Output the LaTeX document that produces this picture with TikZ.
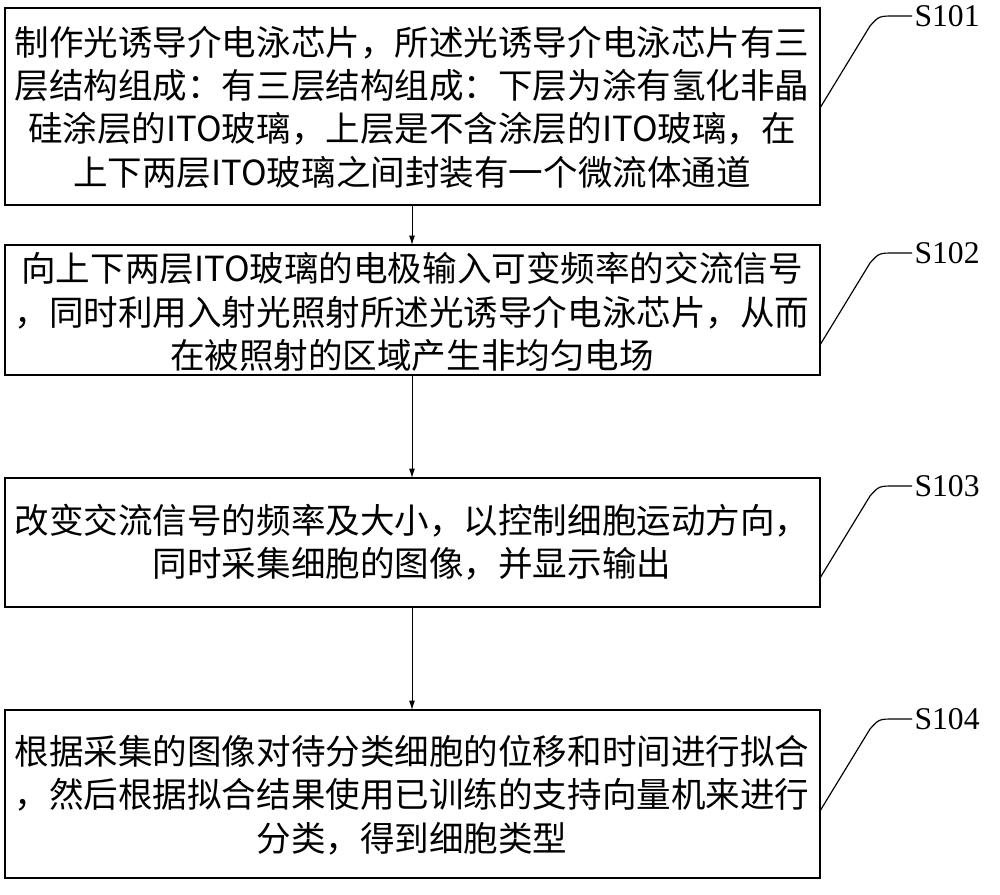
\documentclass[tikz,border=0pt]{standalone}
\usepackage{fontspec}
\usetikzlibrary{arrows.meta}
\newfontfamily\cjk{Noto Sans CJK SC}
\setmainfont{Liberation Serif}
\begin{document}
\begin{tikzpicture}[x=0.03cm, y=-0.03cm]
    % Stili
    \tikzset{
        stepbox/.style={rectangle, draw, line width=1pt, inner sep=0pt},
        steptext/.style={align=center, font=\cjk\fontsize{29.5}{37}\selectfont},
        steplabel/.style={font=\fontsize{27}{30}\selectfont, anchor=west, inner sep=2pt},
        arrow/.style={-{Latex[length=8pt,width=5pt]}, line width=0.8pt}
    }
    \useasboundingbox (0,0) rectangle (1000,895);

    % Blocchi
    \draw[stepbox] (5,8) rectangle (820,205);
    \node[steptext] (t1) at (412,107) {制作光诱导介电泳芯片，所述光诱导介电泳芯片有三\\层结构组成：有三层结构组成：下层为涂有氢化非晶\\硅涂层的ITO玻璃，上层是不含涂层的ITO玻璃，在\\上下两层ITO玻璃之间封装有一个微流体通道};
    \draw[stepbox] (5,245) rectangle (820,375);
    \node[steptext] (t2) at (412,312) {向上下两层ITO玻璃的电极输入可变频率的交流信号\\，同时利用入射光照射所述光诱导介电泳芯片，从而\\在被照射的区域产生非均匀电场};
    \draw[stepbox] (5,478) rectangle (820,607);
    \node[steptext] (t3) at (412,542) {改变交流信号的频率及大小，以控制细胞运动方向，\\同时采集细胞的图像，并显示输出};
    \draw[stepbox] (5,710) rectangle (820,878);
    \node[steptext] (t4) at (412,795) {根据采集的图像对待分类细胞的位移和时间进行拟合\\，然后根据拟合结果使用已训练的支持向量机来进行\\分类，得到细胞类型};

    \coordinate (b1) at (412,205); \coordinate (a2) at (412,245);
    \coordinate (b2) at (412,375); \coordinate (a3) at (412,478);
    \coordinate (b3) at (412,607); \coordinate (a4) at (412,710);
    \draw[arrow] (b1) -- (a2);
    \draw[arrow] (b2) -- (a3);
    \draw[arrow] (b3) -- (a4);

    % Etichette
    \foreach \n/\y in {1/16, 2/253, 3/486, 4/719} {
        \node[steplabel] (s\n) at (912,\y) {S10\n};
        \draw[line width=1pt] (820,\y+92) -- (870,\y+10) .. controls (879,\y) .. (895,\y) -- (s\n.west);
    }
\end{tikzpicture}
\end{document}
